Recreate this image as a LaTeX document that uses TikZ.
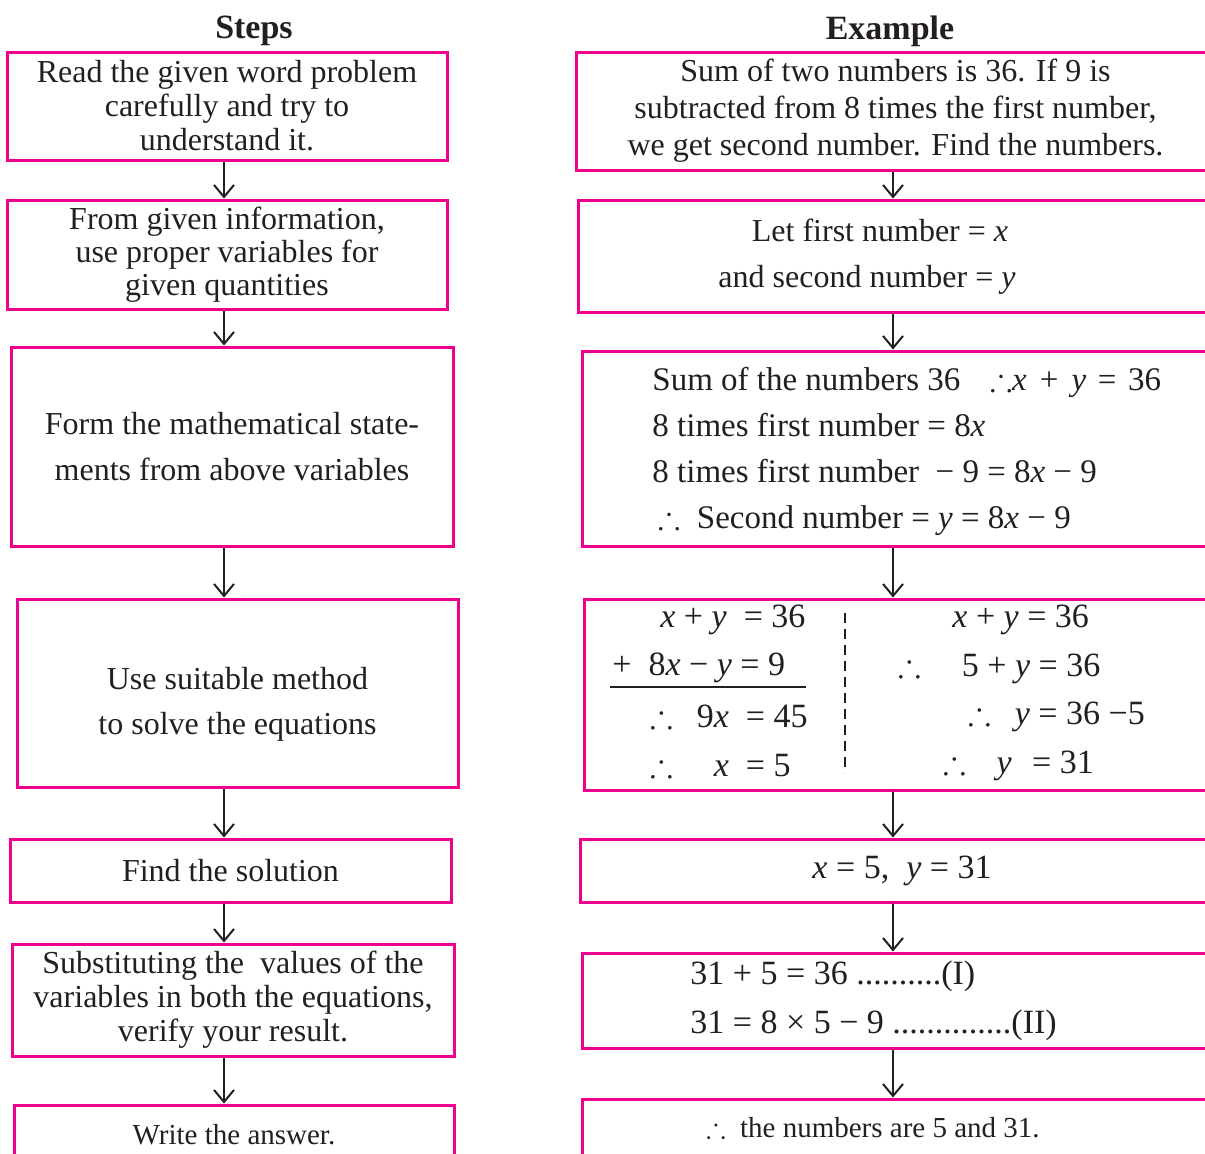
\documentclass[tikz,border=0pt]{standalone}
\usepackage{amssymb}
\usepackage{fontspec}
\setmainfont{Liberation Serif}
\usetikzlibrary{arrows.meta, calc}
\definecolor{framecol}{RGB}{236,0,140}
\definecolor{inkcol}{RGB}{35,31,32}

\newcommand{\ivar}[1]{\textit{#1}}
\newcommand{\thf}{$\therefore$}

\begin{document}
\begin{tikzpicture}[
    x=0.5pt, y=-0.5pt,
    stepbox/.style={draw=framecol, line width=1.5pt, inner sep=0pt,
        text=inkcol, align=center, font=\fontsize{16}{17}\selectfont},
    head/.style={text=inkcol, font=\fontsize{17}{20}\selectfont\bfseries},
    eqn/.style={text=inkcol, inner sep=0pt, font=\fontsize{17}{20}\selectfont},
    arr/.style={-{Straight Barb[length=6pt, width=10pt]}, line width=1pt, draw=inkcol},
]

\useasboundingbox (0,0) rectangle (1205,1153);

% ════════════════════════════════════════════════════════
% 0. HEADINGS
% ════════════════════════════════════════════════════════
\node[head] (hsteps) at (254, 31) {Steps};
\node[head] (hexample) at (890, 31) {Example};

% ════════════════════════════════════════════════════════
% 1. LEFT COLUMN: steps
% ════════════════════════════════════════════════════════
\node[stepbox, minimum width=220pt, minimum height=54pt] (s1) at (227, 106)
    {Read the given word problem\\carefully and try to\\understand it.};
\node[stepbox, minimum width=220pt, minimum height=54.5pt,
      font=\fontsize{16}{16.5}\selectfont] (s2) at (227, 254.5)
    {From given information,\\use proper variables for\\given quantities};
\node[stepbox, minimum width=221pt, minimum height=99.5pt,
      font=\fontsize{16}{23}\selectfont] (s3) at (232, 446.5)
    {Form the mathematical state-\\ments from above variables};
\node[stepbox, minimum width=220.5pt, minimum height=94pt] (s4) at (237.5, 693) {};
\node[eqn, align=center, font=\fontsize{16}{22.5}\selectfont] (s4t) at (237.5, 704)
    {Use suitable method\\to solve the equations};
\node[stepbox, minimum width=220.5pt, minimum height=31.5pt] (s5) at (230.5, 870.5)
    {Find the solution};
\node[stepbox, minimum width=221pt, minimum height=56pt] (s6) at (233, 1000)
    {Substituting the~ values of the\\variables in both the equations,\\verify your result.};
\node[stepbox, minimum width=220pt, minimum height=30pt,
      font=\fontsize{14.5}{16}\selectfont] (s7) at (234, 1135)
    {Write the answer.};

% Connectors
\coordinate (lx) at (224, 0);
\draw[arr] (s1.south -| lx) -- (s2.north -| lx);
\draw[arr] (s2.south -| lx) -- (s3.north -| lx);
\draw[arr] (s3.south -| lx) -- (s4.north -| lx);
\draw[arr] (s4.south -| lx) -- (s5.north -| lx);
\draw[arr] (s5.south -| lx) -- (s6.north -| lx);
\draw[arr] (s6.south -| lx) -- (s7.north -| lx);

% ════════════════════════════════════════════════════════
% 2. RIGHT COLUMN: worked example (boxes run off the page)
% ════════════════════════════════════════════════════════
\node[stepbox, minimum width=319.5pt, minimum height=59pt,
      font=\fontsize{16}{18.5}\selectfont] (r1) at (895.5, 111)
    {Sum of two numbers is 36. If 9 is\\subtracted from 8 times the first number,\\we get second number. Find the numbers.};
\node[stepbox, minimum width=318.5pt, minimum height=56pt] (r2) at (896.5, 256) {};
\node[stepbox, minimum width=316.5pt, minimum height=97.5pt] (r3) at (898.5, 448.5) {};
\node[stepbox, minimum width=315.5pt, minimum height=95.5pt] (r4) at (899.5, 694.5) {};
\node[stepbox, minimum width=317.5pt, minimum height=31.5pt] (r5) at (897.5, 870.5) {};
\node[stepbox, minimum width=316.5pt, minimum height=47.5pt] (r6) at (898.5, 1000.5) {};
\node[stepbox, minimum width=316.5pt, minimum height=35.5pt] (r7) at (898.5, 1134.5) {};

% Let ...
\node[eqn, font=\fontsize{16}{18}\selectfont] (r2a) at (880, 230) {Let first number = \ivar{x}};
\node[eqn, font=\fontsize{16}{18}\selectfont] (r2b) at (867, 280) {and second number = \ivar{y}};

% Statements
\node[eqn, anchor=west, align=left, font=\fontsize{16.5}{23}\selectfont] (r3a) at (652, 451)
    {Sum of the numbers 36\hspace{0.9em}\thf\ivar{x}\hspace{0.4em}+\hspace{0.4em}\ivar{y}\hspace{0.35em}=\hspace{0.35em}36\\
     8 times first number = 8\ivar{x}\\
     8 times first number ~− 9 = 8\ivar{x} − 9\\
     \hspace*{3pt}\thf~ Second number = \ivar{y} = 8\ivar{x} − 9};

% Elimination (left half)
\node[eqn, anchor=west] (e1) at (660, 620) {\ivar{x} + \ivar{y} ~= 36};
\node[eqn, anchor=west] (e2) at (612, 668) {+\hspace{0.5em}8\ivar{x} − \ivar{y} = 9};
\draw[inkcol, line width=1pt] (610, 687) -- (806, 687);
\node[eqn, anchor=west] (e3) at (650, 716) {\thf\hspace{0.7em}9\ivar{x}\hspace{0.5em}= 45};
\node[eqn, anchor=west] (e4) at (650, 765) {\thf\hspace{1.2em}\ivar{x}\hspace{0.5em}= 5};

% divider
\draw[inkcol, line width=1pt, dash pattern=on 5pt off 3pt] (845, 613) -- (845, 773);

% Substitution (right half)
\node[eqn, anchor=west] (f1) at (952, 620) {\ivar{x} + \ivar{y} = 36};
\node[eqn, anchor=west] (f2) at (898, 668) {\thf\hspace{1.2em}5 + \ivar{y} = 36};
\node[eqn, anchor=west] (f3) at (968, 716) {\thf\hspace{0.7em}\ivar{y} = 36 −5};
\node[eqn, anchor=west] (f4) at (943, 765) {\thf\hspace{0.9em}\ivar{y}\hspace{0.6em}= 31};

% Solution
\node[eqn] (r5a) at (902, 871) {\ivar{x} = 5,~ \ivar{y} = 31};

% Check
\node[eqn, anchor=west, align=left, font=\fontsize{17}{24.5}\selectfont] (r6a) at (690, 1000.5)
    {31 + 5 = 36 ..........(I)\\
     31 = 8 × 5 − 9 ..............(II)};

% Answer
\node[eqn, font=\fontsize{14.5}{16}\selectfont] (r7a) at (873, 1128)
    {\thf~ the numbers are 5 and 31.};

% Connectors
\coordinate (rx) at (893, 0);
\draw[arr] (r1.south -| rx) -- (r2.north -| rx);
\draw[arr] (r2.south -| rx) -- (r3.north -| rx);
\draw[arr] (r3.south -| rx) -- (r4.north -| rx);
\draw[arr] (r4.south -| rx) -- (r5.north -| rx);
\draw[arr] (r5.south -| rx) -- (r6.north -| rx);
\draw[arr] (r6.south -| rx) -- (r7.north -| rx);

\end{tikzpicture}
\end{document}
